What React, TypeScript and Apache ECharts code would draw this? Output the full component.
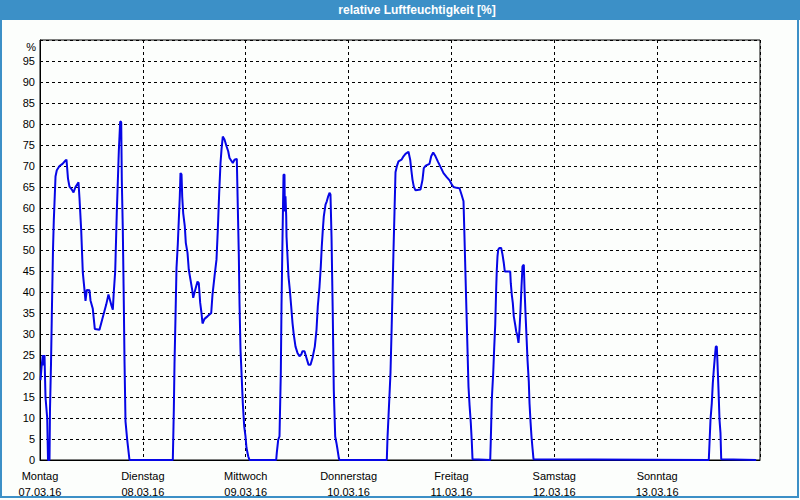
import { useEffect, useRef } from 'react';
import * as echarts from 'echarts';

const titleText = 'relative Luftfeuchtigkeit [%]';
const dayNames = ['Montag', 'Dienstag', 'Mittwoch', 'Donnerstag', 'Freitag', 'Samstag', 'Sonntag'];
const dayDates = ['07.03.16', '08.03.16', '09.03.16', '10.03.16', '11.03.16', '12.03.16', '13.03.16'];
const yUnit = '%';

// hours since Monday 00:00
const hours = [
  0.12, 0.35, 0.65, 0.89, 1.05, 1.28, 1.68, 1.87, 2.22, 2.33, 2.57, 2.75, 3.03, 3.22, 3.62, 3.92, 4.55, 5.25, 5.95, 6.18,
  6.53, 6.88, 7.35, 7.82, 8.28, 8.98, 9.22, 9.61, 9.99, 10.38, 10.62, 10.92, 11.55, 11.78, 12.32, 12.79, 13.88, 14.65,
  15.45, 15.98, 16.61, 16.99, 17.22, 17.55, 17.92, 18.39, 18.71, 18.95, 19.09, 19.32, 19.55, 19.72, 19.95, 20.35, 20.88,
  30.99, 31.22, 31.38, 31.62, 31.85, 32.15, 32.39, 32.62, 32.78, 33.02, 33.18, 33.41, 33.79, 34.02, 34.42, 34.72, 35.12,
  35.51, 35.75, 36.21, 36.75, 37.05, 37.38, 37.68, 37.92, 38.38, 39.08, 39.95, 40.25, 40.72, 41.18, 41.49, 41.81, 42.12,
  42.35, 42.65, 43.05, 43.52, 43.91, 44.22, 44.99, 45.38, 45.92, 46.15, 46.39, 46.55, 46.78, 47.09, 47.32, 47.65, 47.95,
  48.18, 48.58, 48.88,
  55.11, 55.25, 55.58, 55.88, 56.19, 56.35, 56.58, 56.82, 57.05, 57.12, 57.28, 57.45, 57.52, 57.75, 57.98, 58.29, 58.61,
  58.92, 59.22, 59.62, 60.08, 60.55, 60.95, 61.25, 61.72, 62.18, 62.65, 63.12, 63.58, 64.12, 64.52, 64.82, 65.22, 65.52,
  65.75, 65.99, 66.22, 66.62, 66.92, 67.25, 67.55, 67.78, 68.02, 68.32, 68.55, 68.88, 69.18, 69.42, 69.72, 69.88,
  80.92, 81.08, 81.32, 81.55, 81.78, 82.02, 82.25, 82.48, 82.72, 82.95, 83.25, 83.65, 84.35, 84.82, 85.28, 85.98, 86.38,
  86.68, 86.92, 87.22, 87.62, 88.78, 89.25, 89.55, 90.02, 90.88, 91.28, 91.75, 92.28, 92.82, 93.45, 94.15, 94.85, 95.62,
  96.02, 96.48, 97.18, 97.88, 98.35, 98.82, 99.05, 99.28, 99.52, 99.75, 99.98, 100.22, 100.52, 100.75, 100.92,
  105.05, 105.19, 105.42, 105.75, 105.98, 106.22, 106.45, 106.59, 106.75, 106.92, 107.22, 107.61, 107.92, 108.22, 108.45,
  109.08, 109.71, 109.85, 110.08, 110.32, 110.55, 110.88, 111.12, 111.42, 111.65, 111.88, 112.12, 112.35, 112.58, 112.89,
  113.05, 113.28, 113.52, 113.75, 114.05, 114.22, 114.45, 114.68, 114.92, 115.15,
  156.05, 156.22, 156.45, 156.75, 156.99, 157.22, 157.45, 157.69, 157.92, 158.08, 158.32, 158.55, 158.78, 158.95, 167.11,
];

const humidity = [
  19, 22, 25, 22.5, 25, 15, 10, 0, 0, 12, 23, 34, 50, 57, 67.5, 69, 70, 70.5, 71.3, 71.5,
  67, 65.1, 64.5, 63.7, 65, 66.1, 62.2, 54.8, 44.6, 40.5, 37.9, 40.5, 40.4, 38, 36, 31.2, 31, 34,
  37, 39.4, 37, 35.8, 40, 45, 59, 73.5, 80.6, 80.5, 66.5, 55, 37.8, 23.5, 9.2, 4.8, 0,
  0, 11.6, 22.7, 34.2, 45.7, 51.3, 57.2, 62.8, 68.3, 68, 62.8, 58.8, 55.6, 51.7, 49.3, 45.3, 42.9,
  40.5, 38.6, 40.5, 42.5, 42.1, 37.4, 35, 32.5, 33.6, 34.2, 35, 39.4, 43.7, 47.7, 54.8, 63.6, 70.7,
  73.9, 77, 76.3, 74.7, 73.5, 71.9, 70.7, 71.5, 71.7, 60.4, 48.9, 37.4, 26.3, 19.1, 13.5, 8, 5.6,
  2.9, 0.9, 0,
  0, 1.7, 4.8, 5.6, 20.7, 36.6, 52.5, 67.9, 68, 59.2, 62.8, 58, 53.2, 48.5, 43.7, 40.5, 36.6,
  32.6, 29.8, 27, 25.5, 24.7, 25.1, 25.9, 25.9, 24.3, 22.7, 22.7, 24.3, 27, 31, 36.6, 41.3, 46.1,
  50.9, 54.8, 58, 60.8, 61.6, 62.8, 63.6, 63.2, 53.2, 34.2, 16.7, 5.6, 4, 2.5, 0.5, 0,
  0, 5.2, 10.4, 15.5, 20.7, 30.2, 39.8, 49.7, 59.2, 68.5, 69.9, 71.1, 71.5, 72.3, 72.9, 73.4, 71.5,
  68.7, 66.7, 65.1, 64.2, 64.4, 66.7, 69.5, 70.1, 70.5, 72.3, 73.2, 72.3, 71.1, 69.8, 68.3, 67.4, 66.5,
  65.7, 65, 64.8, 64.7, 63.2, 61.6, 52.9, 44.1, 35, 26.3, 17.5, 13.2, 8.8, 4.4, 0.2,
  0, 4.8, 14.4, 20.7, 26.7, 32.2, 41, 45.3, 48.5, 50.1, 50.5, 50.5, 48.9, 46.9, 44.9,
  44.9, 44.9, 42.1, 39.4, 37.4, 34.2, 32.2, 30.6, 29.4, 27.9, 31, 35.8, 41.3, 46.1, 46.5,
  41, 35, 29.4, 23.9, 18.7, 13.5, 9.2, 5.6, 2.8, 0.2,
  0, 4, 9.6, 13.5, 18.3, 21.5, 24.3, 27, 27, 23.1, 16.7, 9.6, 6.4, 0.2, 0,
];

const FONT = '"Liberation Sans", Arial, sans-serif';
const FRAME = '#3c90c7';

export default function App() {
  const ref = useRef<HTMLDivElement>(null);
  useEffect(() => {
    document.body.style.margin = '0';
    const chart = echarts.init(ref.current!, null, { renderer: 'svg' });
    const grid = { left: 40, top: 40, right: 40, bottom: 40 };
    chart.setOption({
      animation: false,
      backgroundColor: '#fcfefc',
      textStyle: { fontFamily: FONT },
      grid: { ...grid, show: true, borderColor: '#000', borderWidth: 1, backgroundColor: 'transparent' },
      graphic: [
        { type: 'rect', shape: { x: 0, y: 0, width: 800, height: 20 }, style: { fill: FRAME }, silent: true },
        {
          type: 'rect',
          shape: { x: 1, y: 1, width: 797, height: 496 },
          style: { fill: 'none', stroke: FRAME, lineWidth: 2 },
          silent: true,
        },
        {
          type: 'text',
          x: 417,
          y: 10,
          style: {
            text: titleText,
            fill: '#fff',
            font: `bold 12px ${FONT}`,
            textAlign: 'center',
            textVerticalAlign: 'middle',
          },
        },
        {
          type: 'text',
          x: 36,
          y: 47,
          style: {
            text: yUnit,
            fill: '#000',
            font: `11px ${FONT}`,
            textAlign: 'right',
            textVerticalAlign: 'middle',
          },
        },
      ],
      xAxis: {
        type: 'value',
        min: 0,
        max: 168,
        interval: 24,
        axisLine: { show: true, lineStyle: { color: '#000', width: 1 } },
        axisTick: { show: false },
        axisLabel: {
          color: '#000',
          fontSize: 11,
          fontFamily: FONT,
          lineHeight: 16,
          margin: 8,
          showMaxLabel: false,
          formatter: (v: number) => {
            const i = Math.round(v / 24);
            return i < dayNames.length ? `${dayNames[i]}\n${dayDates[i]}` : '';
          },
        },
        splitLine: { show: true, lineStyle: { color: '#000', type: [3, 3], width: 1 } },
      },
      yAxis: {
        type: 'value',
        min: 0,
        max: 100,
        interval: 5,
        axisLine: { show: true, lineStyle: { color: '#000', width: 1 } },
        axisTick: { show: false },
        axisLabel: {
          color: '#000',
          fontSize: 11,
          fontFamily: FONT,
          margin: 5,
          formatter: (v: number) => (v >= 100 ? '' : String(v)),
        },
        splitLine: { show: true, lineStyle: { color: '#000', type: [3, 3], width: 1 } },
      },
      series: [
        {
          type: 'line',
          data: hours.map((h, i) => [h, humidity[i]]),
          showSymbol: false,
          symbol: 'none',
          lineStyle: { color: '#0606e6', width: 2 },
          itemStyle: { color: '#0606e6' },
        },
      ],
    });
    return () => chart.dispose();
  }, []);
  return <div ref={ref} style={{ width: 800, height: 500 }} />;
}
